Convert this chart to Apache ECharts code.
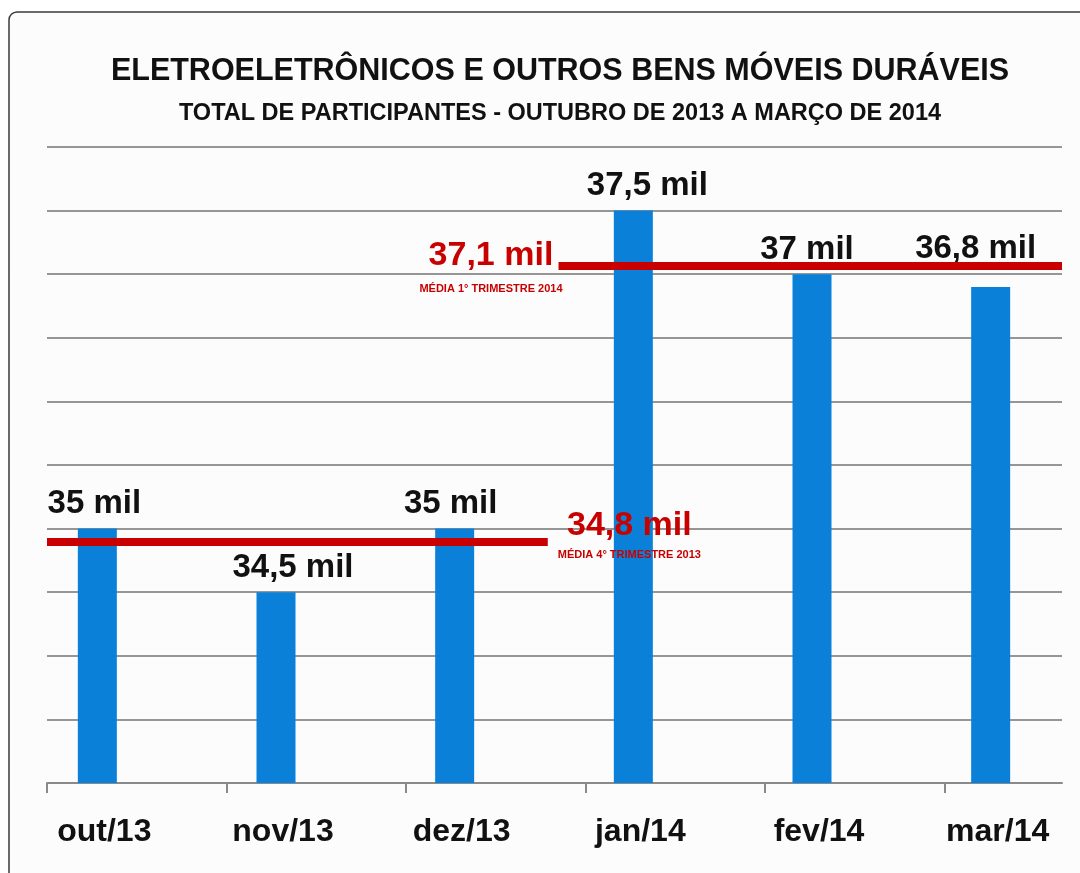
<!DOCTYPE html>
<html>
<head>
  <meta charset="utf-8">
  <title>Eletroeletrônicos e outros bens móveis duráveis</title>
  <script src="https://cdn.jsdelivr.net/npm/echarts@6/dist/echarts.min.js"></script>
  <style>
    html, body { margin: 0; padding: 0; background: #fff; }
  </style>
</head>
<body>
<div id="main" style="width:1080px;height:873px;"></div>

<script type="text/javascript">
// dados
var months = ['out/13', 'nov/13', 'dez/13', 'jan/14', 'fev/14', 'mar/14'];
var participants = [35, 34.5, 35, 37.5, 37, 36.9];   // altura das barras (mil)
var valueLabels = ['35 mil', '34,5 mil', '35 mil', '37,5 mil', '37 mil', '36,8 mil'];
var avgLevels = [34.9, 37.07];                         // posição das linhas de média
var avgLabels = ['34,8 mil', '37,1 mil'];
var avgNames = ['MÉDIA 4° TRIMESTRE 2013', 'MÉDIA 1° TRIMESTRE 2014'];

var FONT = '"Liberation Sans", Arial, sans-serif';
var RED = '#c80000';

// deslocamento dos rótulos como no original (não são dados)
var labelShift = [[-3, 0], [17, 0], [-4, 0], [14, 0], [-5, 0], [-15, -14]];

var barData = participants.map(function (v, i) {
    return { value: v, label: { offset: labelShift[i] } };
});

var myChart = echarts.init(document.getElementById('main'));

var option = {
    backgroundColor: '#ffffff',
    animation: false,
    graphic: [{
        type: 'rect',
        z: -10,
        shape: { x: 9, y: 12, width: 1100, height: 900, r: 8 },
        style: { fill: '#fcfcfc', stroke: '#3a3a3a', lineWidth: 1.5 }
    }],
    title: [{
        text: 'ELETROELETRÔNICOS E OUTROS BENS MÓVEIS DURÁVEIS',
        left: 555, top: 51, textAlign: 'center',
        textStyle: { fontFamily: FONT, fontWeight: 'bold', fontSize: 30.5, color: '#111' }
    }, {
        text: 'TOTAL DE PARTICIPANTES - OUTUBRO DE 2013 A MARÇO DE 2014',
        left: 555, top: 97, textAlign: 'center',
        textStyle: { fontFamily: FONT, fontWeight: 'bold', fontSize: 23.5, color: '#111' }
    }],
    grid: [
        { left: 8, width: 1072, top: 147, bottom: 90 },     // barras
        { left: 47, width: 1015, top: 147, bottom: 90 }     // linhas de grade / eixo
    ],
    xAxis: [{
        type: 'category',
        gridIndex: 0,
        data: months,
        axisLine: { show: false },
        axisTick: { show: false },
        axisLabel: {
            margin: 33,
            padding: [0, 0, 0, 14],
            fontFamily: FONT, fontWeight: 'bold', fontSize: 32, color: '#111'
        }
    }, {
        type: 'value',
        gridIndex: 1,
        min: 0, max: 5.655, interval: 1,
        axisLine: { show: true, lineStyle: { color: '#8a8a8a', width: 2 } },
        axisTick: { show: true, length: 10, customValues: [0, 1, 2, 3, 4, 5],
                    lineStyle: { color: '#8a8a8a', width: 2 } },
        axisLabel: { show: false },
        splitLine: { show: false }
    }],
    yAxis: [{
        type: 'value',
        gridIndex: 0,
        min: 33, max: 38, interval: 0.5,
        show: false
    }, {
        type: 'value',
        gridIndex: 1,
        min: 33, max: 38, interval: 0.5,
        axisLine: { show: false },
        axisTick: { show: false },
        axisLabel: { show: false },
        splitLine: { show: true, lineStyle: { color: '#969696', width: 2 } }
    }],
    series: [{
        name: 'Participantes',
        type: 'bar',
        xAxisIndex: 0, yAxisIndex: 0,
        data: barData,
        barWidth: 39,
        itemStyle: { color: '#0a80d8' },
        z: 3,
        label: {
            show: true,
            position: 'top',
            distance: 8,
            formatter: function (p) { return valueLabels[p.dataIndex]; },
            fontFamily: FONT, fontWeight: 'bold', fontSize: 33, color: '#111'
        }
    }, {
        name: 'Médias',
        type: 'line',
        xAxisIndex: 1, yAxisIndex: 1,
        data: [],
        z: 5,
        markLine: {
            silent: true,
            symbol: 'none',
            lineStyle: { color: RED, width: 8, type: 'solid' },
            data: [
                [{ coord: [0, avgLevels[0]],
                   label: {
                       position: 'end', distance: 10,
                       formatter: '{a|' + avgLabels[0] + '}\n{b|' + avgNames[0] + '}',
                       rich: {
                           a: { fontFamily: FONT, fontWeight: 'bold', fontSize: 34, color: RED, lineHeight: 28, align: 'center' },
                           b: { fontFamily: FONT, fontWeight: 'bold', fontSize: 11, color: RED, lineHeight: 32, align: 'center' }
                       }
                   } },
                 { coord: [2.79, avgLevels[0]] }],
                [{ coord: [2.85, avgLevels[1]],
                   label: {
                       position: 'start', distance: -4,
                       formatter: '{a|' + avgLabels[1] + '}\n{b|' + avgNames[1] + '}',
                       rich: {
                           a: { fontFamily: FONT, fontWeight: 'bold', fontSize: 34, color: RED, lineHeight: 48, align: 'center' },
                           b: { fontFamily: FONT, fontWeight: 'bold', fontSize: 11, color: RED, lineHeight: 20, align: 'center' }
                       }
                   } },
                 { coord: [5.655, avgLevels[1]] }]
            ]
        }
    }]
};

myChart.setOption(option);
</script>
</body>
</html>
